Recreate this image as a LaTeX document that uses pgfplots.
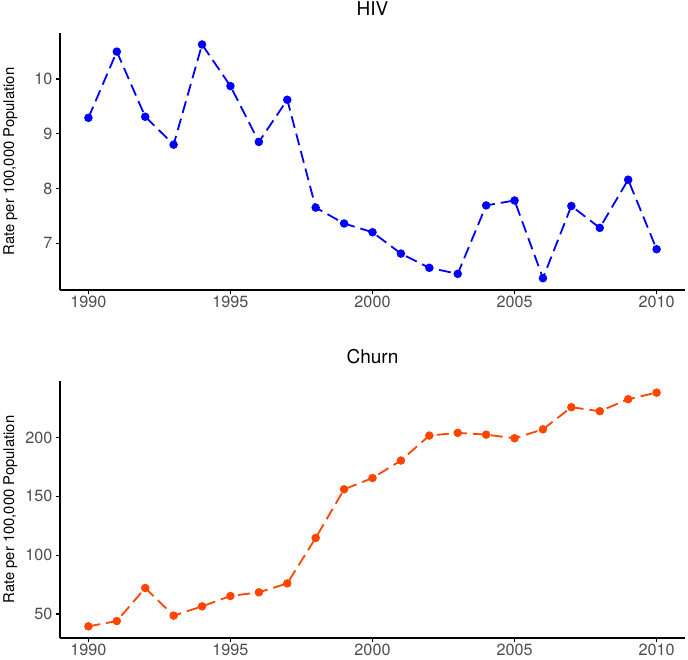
\documentclass[border=0pt]{standalone}
\usepackage{pgfplots}
\pgfplotsset{compat=1.18}
\usepackage{fontspec}
\setmainfont{TeX Gyre Heros}
\definecolor{tickgray}{HTML}{4D4D4D}
\definecolor{hivblue}{HTML}{0000FF}
\definecolor{churnorange}{HTML}{FF4500}
\pgfplotsset{
  panel/.style={
    scale only axis,
    width=625pt, height=257pt,
    xmin=1989, xmax=2011,
    axis lines*=left,
    axis line style={line width=1.1pt, black, -},
    tick style={line width=1.1pt, black},
    tick align=outside,
    major tick length=4.5pt,
    xtick={1990,1995,2000,2005,2010},
    /pgf/number format/1000 sep={},
    /pgf/number format/assume math mode=true,
    ticklabel style={font=\fontsize{16.2}{19}\selectfont, text=tickgray},
    xticklabel style={inner sep=0pt, yshift=-1.8pt},
    yticklabel style={inner sep=0pt, xshift=-3pt},
    ylabel={Rate per 100,000 Population},
    every axis y label/.style={at={(axis description cs:-0.0736,0.5)}, rotate=90, anchor=base, font=\fontsize{14.8}{18}\selectfont},
    every axis title/.style={at={(axis description cs:0.5,1)}, anchor=base, yshift=17pt, font=\fontsize{19}{22}\selectfont},
    clip=false,
  },
  dline/.style={line width=1.8pt, dash pattern=on 12pt off 6pt, mark=*, mark size=3.3pt, mark options={solid}},
}
\begin{document}
\begin{tikzpicture}[x=1pt,y=1pt]
\useasboundingbox (0,0) rectangle (688,660);
\begin{axis}[panel, at={(60pt,370pt)}, anchor=south west,
  title={HIV}, ymin=6.145, ymax=10.84, ytick={7,8,9,10}]
\addplot[dline, color=hivblue] coordinates {
(1990,9.29) (1991,10.50) (1992,9.31) (1993,8.80) (1994,10.63) (1995,9.87)
(1996,8.85) (1997,9.62) (1998,7.65) (1999,7.36) (2000,7.20) (2001,6.81)
(2002,6.55) (2003,6.44) (2004,7.69) (2005,7.78) (2006,6.36) (2007,7.68)
(2008,7.28) (2009,8.16) (2010,6.89)};
\end{axis}
\begin{axis}[panel, at={(60pt,22pt)}, anchor=south west,
  title={Churn}, ymin=29.6, ymax=248.1, ytick={50,100,150,200}]
\addplot[dline, color=churnorange] coordinates {
(1990,39.5) (1991,44.0) (1992,72.1) (1993,48.6) (1994,56.5) (1995,65.3)
(1996,68.4) (1997,76.0) (1998,114.7) (1999,156.0) (2000,165.6) (2001,180.5)
(2002,201.7) (2003,204.0) (2004,202.5) (2005,199.4) (2006,207.0) (2007,225.8)
(2008,222.4) (2009,232.6) (2010,238.2)};
\end{axis}
\end{tikzpicture}
\end{document}
